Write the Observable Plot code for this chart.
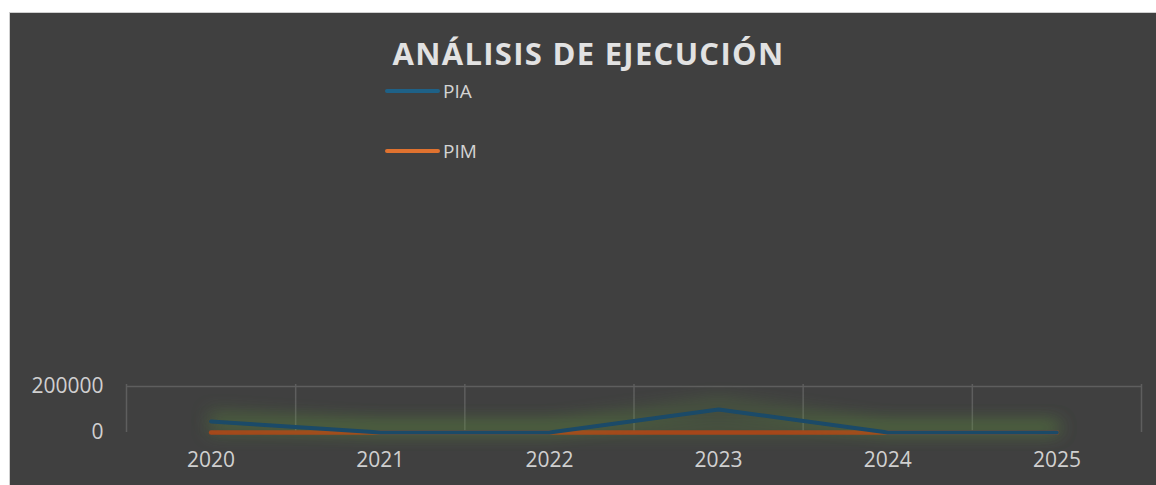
<!DOCTYPE html>
<html>
<head>
<meta charset="utf-8">
<script src="https://cdn.jsdelivr.net/npm/d3@7"></script>
<script src="https://cdn.jsdelivr.net/npm/@observablehq/plot@0.6"></script>
<style>
  html, body { margin: 0; padding: 0; background: #ffffff; width: 1156px; height: 485px; overflow: hidden; }
  #panel { position: absolute; left: 9px; top: 12px; width: 1147px; height: 473px; background: #404040;
           border-left: 1px solid #cfcfcf; border-top: 1px solid #cfcfcf; box-sizing: border-box; }
  #title { position: absolute; left: 0; width: 1177px; top: 33px; text-align: center; letter-spacing: 1.3px;
           font-family: "Open Sans", sans-serif; font-weight: bold; font-size: 31px; color: #e2e2e2; line-height: 40px; }
  .leg { position: absolute; left: 385px; font-family: "Open Sans", sans-serif; font-size: 19px; color: #d4d4d4; line-height: 24px; }
  .leg span.sw { display: inline-block; width: 55px; height: 4px; border-radius: 2px; vertical-align: middle; margin-right: 3px; }
  .leg span.tx { vertical-align: middle; }
  #chart { position: absolute; left: 0; top: 0; }
</style>
</head>
<body>
<div id="panel"></div>
<div id="title">ANÁLISIS DE EJECUCIÓN</div>
<div id="legend"></div>
<div id="chart"></div>
<script>
const years = [2020, 2021, 2022, 2023, 2024, 2025];
const seriesNames = ["PIA", "PIM"];
const piaValues = [48000, 0, 0, 100000, 0, 0];
const pimValues = [0, 0, 0, 0, 0, 0];
const yTicks = [0, 200000];
const lineColors = ["#1b4a68", "#a6461a"];
const legendColors = ["#1e6187", "#e0722f"];

const data = [];
years.forEach((y, i) => {
  data.push({year: y, series: "PIA", value: piaValues[i]});
  data.push({year: y, series: "PIM", value: pimValues[i]});
});
const bounds = d3.range(years.length + 1).map(i => years[0] - 0.5 + i);

// legend
const legend = document.getElementById("legend");
const legTops = [77, 137];
seriesNames.forEach((s, i) => {
  const d = document.createElement("div");
  d.className = "leg";
  d.style.top = legTops[i] + "px";
  d.innerHTML = `<span class="sw" style="background:${legendColors[i]}"></span><span class="tx">${s}</span>`;
  legend.appendChild(d);
});

const chart = Plot.plot({
  width: 1156,
  height: 485,
  marginLeft: 126,
  marginRight: 15,
  marginTop: 386,
  marginBottom: 53,
  style: {background: "transparent", fontFamily: "'Open Sans', sans-serif", fontSize: "21px", color: "#d0d0d0"},
  x: {type: "linear", domain: [years[0] - 0.5, years[years.length - 1] + 0.5], ticks: years, tickFormat: "d", label: null},
  y: {domain: [0, 200000], ticks: yTicks, tickFormat: d => String(d), label: null},
  color: {domain: seriesNames, range: lineColors},
  marks: [
    Plot.ruleX(bounds, {stroke: "#5e5e5e", strokeWidth: 1.5, y1: 0, y2: 200000, insetBottom: 2}),
    Plot.ruleY([200000], {stroke: "#5e5e5e", strokeWidth: 1.5}),
    Plot.axisX({ticks: years, tickFormat: "d", tickSize: 0, tickPadding: 20, fill: "#d0d0d0", fontSize: 21, label: null}),
    Plot.axisY({ticks: yTicks, tickFormat: d => String(d), tickSize: 0, tickPadding: 23, fill: "#d0d0d0", fontSize: 21, label: null}),
    Plot.line(data.filter(d => d.series === "PIM"), {x: "year", y: "value", stroke: "series", strokeWidth: 4.5}),
    Plot.line(data.filter(d => d.series === "PIA"), {x: "year", y: "value", stroke: "series", strokeWidth: 4})
  ]
});
d3.select(chart).selectAll("g[aria-label='line']")
  .style("filter", "drop-shadow(0px -5px 9px rgba(100,160,60,0.8))");
document.getElementById("chart").appendChild(chart);
</script>
</body>
</html>
